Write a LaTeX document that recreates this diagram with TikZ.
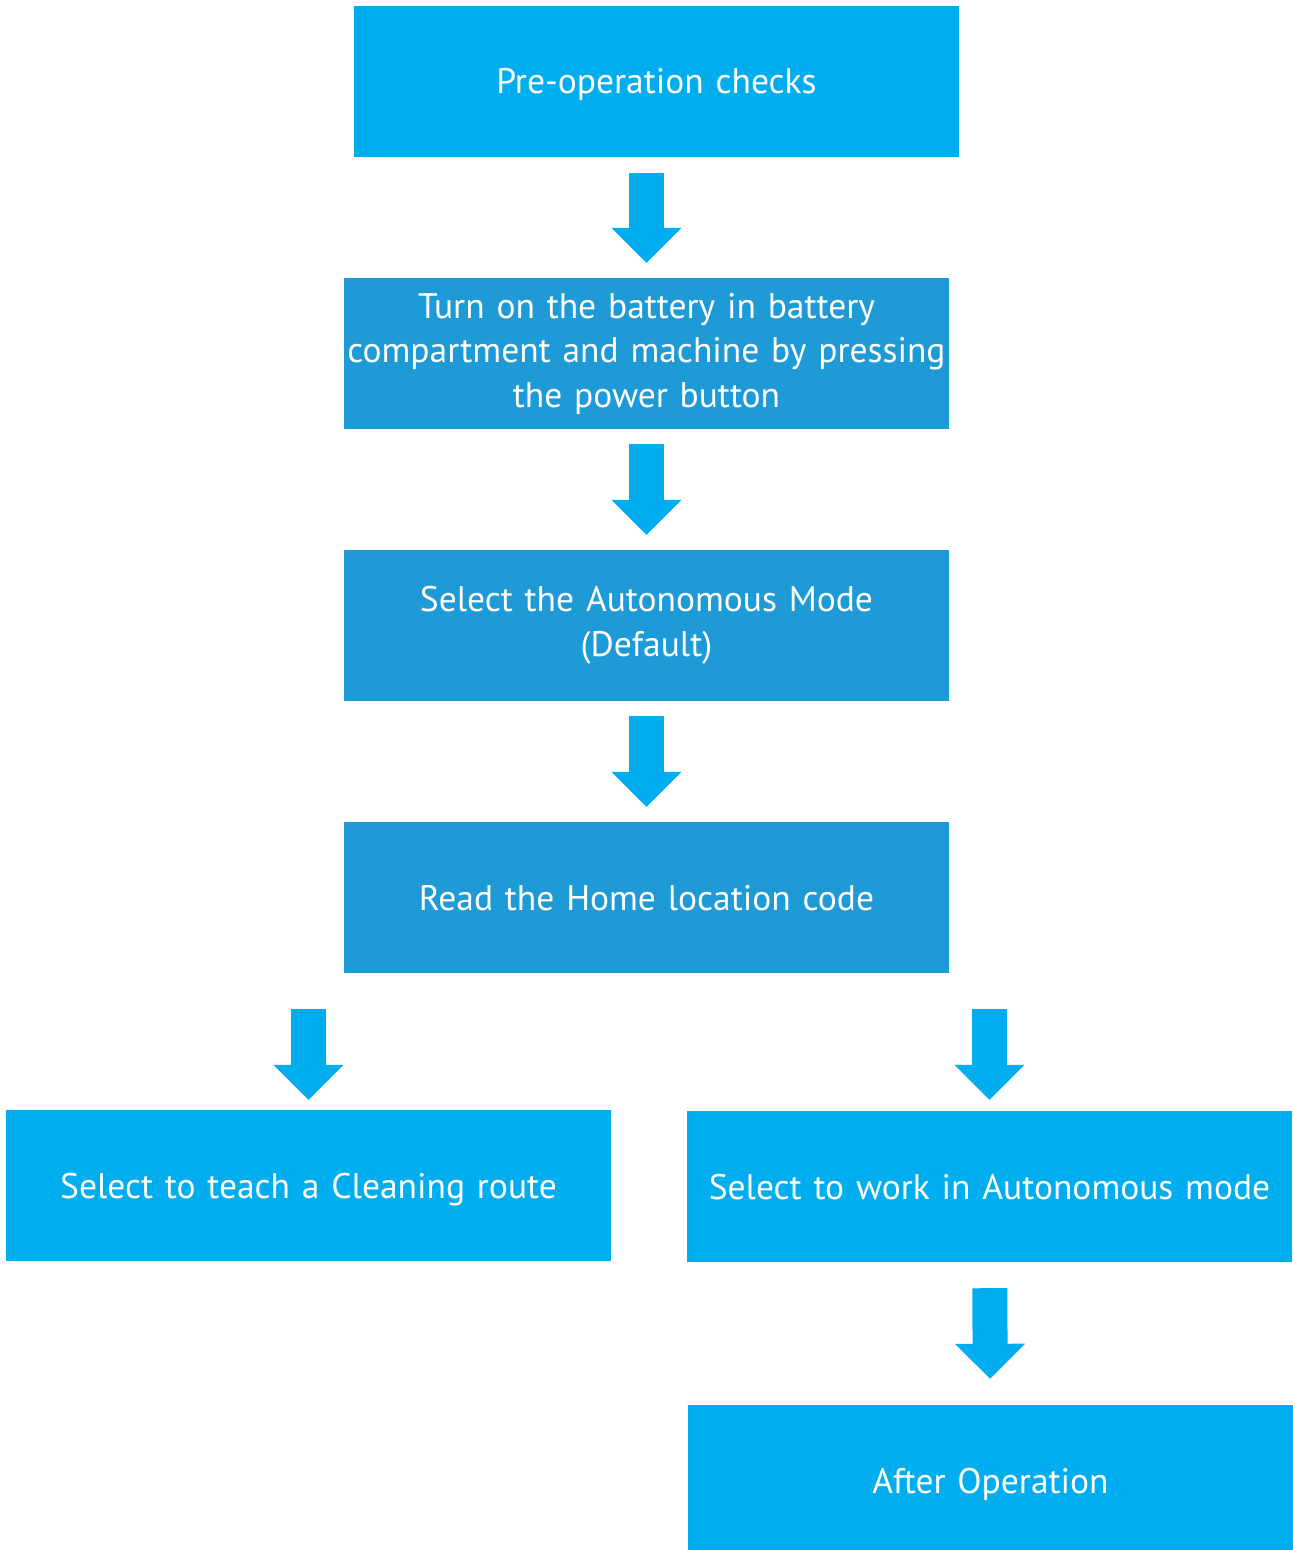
\documentclass[tikz,border=0pt]{standalone}
\usepackage{xcolor}
\usepackage{fontspec}
\setmainfont{PT Sans}
\usepackage{tikz}
\usetikzlibrary{arrows.meta}
\definecolor{stepcyan}{HTML}{00AEEF}
\definecolor{stepblue}{HTML}{1E9AD6}

\begin{document}
\begin{tikzpicture}[x=1pt, y=-1pt,
		box/.style={
			rectangle,
			fill=#1,
			text=white,
			inner sep=0pt,
			minimum width=605pt,
			minimum height=151pt,
			text width=605pt,
			align=center,
			font=\fontsize{35.5}{44.5}\selectfont},
		oneline/.style={text depth=0pt},
		flow/.style={
			draw=stepcyan,
			line width=35pt,
			-{Triangle[length=35pt, width=70pt, line width=0pt]}}
		]
		\useasboundingbox (0,0) rectangle (1293,1550);
		
		% draw the main steps
		\node[box=stepcyan, oneline] (pre) at (656.5, 81) {Pre-operation checks};
		\node[box=stepblue] (turn) at (646.5, 353.5) {Turn on the battery in battery\\compartment and machine by pressing\\the power button};
		\node[box=stepblue] (mode) at (646.5, 625.5) {Select the Autonomous Mode\\(Default)};
		\node[box=stepblue, oneline] (home) at (646.5, 897.5) {Read the Home location code};
		
		% draw the two branches
		\node[box=stepcyan, oneline] (teach) at (308.5, 1185.5) {Select to teach a Cleaning route};
		\node[box=stepcyan, oneline] (work) at (989.5, 1186.5) {Select to work in Autonomous mode};
		\node[box=stepcyan, oneline] (after) at (990.5, 1480.5) {After Operation};
		
		% draw the block arrows
		\draw[flow, shorten <=16pt, shorten >=15pt] (pre.south -| turn.north) -- (turn.north);
		\draw[flow, shorten <=15pt, shorten >=15pt] (turn) -- (mode);
		\draw[flow, shorten <=15pt, shorten >=15pt] (mode) -- (home);
		\draw[flow, shorten <=36pt, shorten >=10pt] (home.south -| teach.north) -- (teach.north);
		\draw[flow, shorten <=36pt, shorten >=11pt] (home.south -| work.north) -- (work.north);
		\draw[flow, shorten <=26pt, shorten >=26pt] (work) -- (after);
\end{tikzpicture}
\end{document}
